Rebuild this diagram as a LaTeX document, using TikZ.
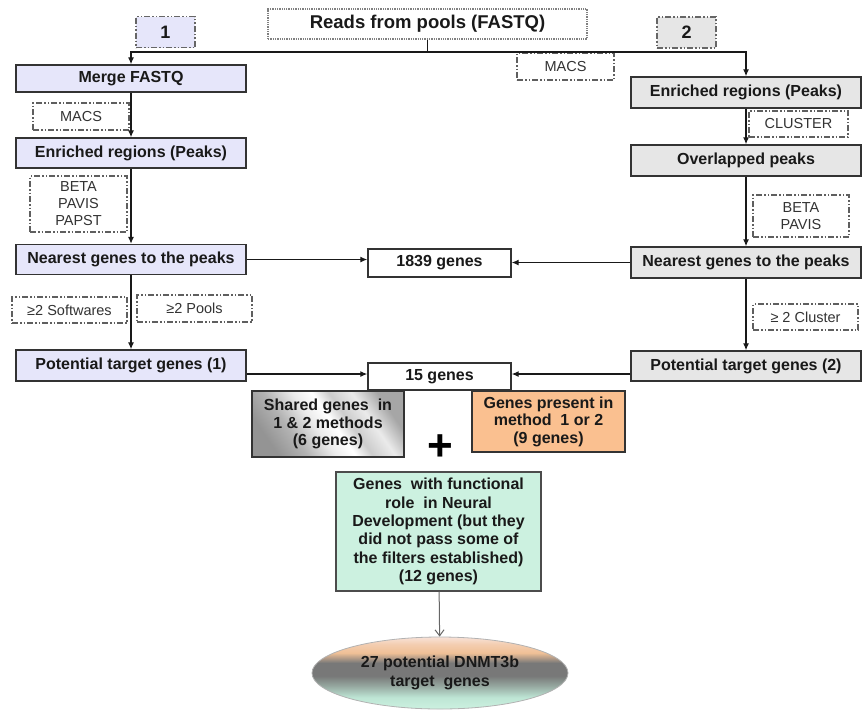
\documentclass[tikz,border=0pt]{standalone}
\usepackage{fontspec}
\setmainfont{Liberation Sans}
\usetikzlibrary{arrows.meta,shapes.geometric}
\definecolor{lav}{RGB}{230,230,250}
\definecolor{lgray}{RGB}{230,230,230}
\definecolor{orng}{RGB}{250,192,144}
\definecolor{mint}{RGB}{204,241,224}
\definecolor{txt}{RGB}{25,25,25}
\definecolor{lblc}{RGB}{95,95,95}
\definecolor{elltop}{RGB}{248,226,216}
\definecolor{ellor}{RGB}{240,192,150}
\definecolor{ellgr}{RGB}{120,120,120}
\definecolor{ellmid}{RGB}{150,168,160}
\definecolor{ellmint}{RGB}{190,230,213}
\pgfdeclarehorizontalshading{metalsh}{100bp}{color(0bp)=(black!42); color(25bp)=(black!42); color(35bp)=(black!30); color(45bp)=(black!8); color(52bp)=(white); color(58bp)=(black!20); color(66bp)=(black!8); color(75bp)=(black!35); color(100bp)=(black!35)}
\pgfdeclareverticalshading{ellsh}{100bp}{color(0bp)=(mint); color(25bp)=(mint); color(33bp)=(ellmint); color(41bp)=(ellmid); color(48bp)=(ellgr); color(57bp)=(ellgr); color(64bp)=(ellor); color(70bp)=(ellor!60!elltop); color(75bp)=(elltop); color(100bp)=(elltop)}
\tikzset{
  mainbox/.style={draw=black!80, line width=1.4pt, inner sep=0pt, minimum width=230pt,
    font=\fontsize{16}{18}\selectfont\bfseries, text=txt},
  lbox/.style={mainbox, fill=lav},
  rbox/.style={mainbox, fill=lgray},
  resbox/.style={draw=black!80, line width=1.4pt, inner sep=0pt, fill=white, align=center,
    font=\fontsize{16}{17.5}\selectfont\bfseries, text=txt},
  lbl/.style={draw=lblc, line width=1.1pt, fill=white, inner sep=0pt, align=center,
    dash pattern=on 6pt off 2pt on 1.5pt off 2pt on 1.5pt off 2pt,
    font=\fontsize{14.5}{17}\selectfont, text=black!80},
  numbox/.style={lbl, draw=black!60, minimum width=59pt, minimum height=31pt,
    font=\fontsize{18}{20}\selectfont\bfseries, text=txt},
  arr/.style={draw=black!90, line width=1.2pt, -{Latex[length=7pt,width=6pt]}},
  arrg/.style={draw=black!60, line width=1pt, -{Straight Barb[length=6pt,width=9pt]}}
}
\begin{document}
\begin{tikzpicture}[x=1pt,y=-1pt]
\useasboundingbox (0,0) rectangle (862,710);
% top
\node[draw=gray, densely dotted, line width=1.3pt, minimum width=319pt, minimum height=30pt,
  inner sep=0pt, font=\fontsize{18.5}{20}\selectfont\bfseries, text=txt] (reads) at (427.5,24) {Reads from pools (FASTQ)};
\node[numbox, fill=lav] (n1) at (165.5,32) {1};
\node[numbox, fill=lgray] (n2) at (686.5,32.5) {2};
% left column
\node[lbox, minimum height=27pt] (merge) at (131,78.5) {Merge FASTQ};
\node[lbox, minimum height=30pt] (enrL) at (131,153) {Enriched regions (Peaks)};
\node[lbox, minimum height=30pt] (nearL) at (131,259.5) {Nearest genes to the peaks};
\node[lbox, minimum height=31pt] (potL) at (131,365.5) {Potential target genes (1)};
% right column
\node[rbox, minimum height=31pt] (enrR) at (746,92.5) {Enriched regions (Peaks)};
\node[rbox, minimum height=31pt] (ovl) at (746,160.5) {Overlapped peaks};
\node[rbox, minimum height=31pt] (nearR) at (746,262.5) {Nearest genes to the peaks};
\node[rbox, minimum height=30pt] (potR) at (746,366) {Potential target genes (2)};
% labels
\node[lbl, minimum width=96pt, minimum height=27pt] (macsL) at (81,116.5) {MACS};
\node[lbl, minimum width=97pt, minimum height=56pt] (betaL) at (78.5,204) {BETA\\PAVIS\\PAPST};
\node[lbl, minimum width=115pt, minimum height=26pt] (soft) at (69.5,310) {≥2 Softwares};
\node[lbl, minimum width=115pt, minimum height=27pt] (pools) at (194.5,308.5) {≥2 Pools};
\node[lbl, minimum width=97pt, minimum height=27pt] (macsM) at (565.5,66.5) {MACS};
\node[lbl, minimum width=99pt, minimum height=26pt] (clus) at (798.5,124) {CLUSTER};
\node[lbl, minimum width=96pt, minimum height=42pt] (betaR) at (801,216) {BETA\\PAVIS};
\node[lbl, minimum width=105pt, minimum height=26pt] (clus2) at (805.5,317) {≥ 2 Cluster};
% results
\node[resbox, minimum width=143pt, minimum height=28pt] (g1839) at (439.5,263) {1839 genes};
\node[resbox, minimum width=143pt, minimum height=27pt] (g15) at (439.5,376.5) {15 genes};
\node[resbox, shading=metalsh, shading angle=35, minimum width=152pt, minimum height=66pt] (shared) at (328,424) {Shared genes~ in\\1 \& 2 methods\\(6 genes)};
\node[resbox, fill=orng, minimum width=153pt, minimum height=61pt] (present) at (548.5,421.5) {Genes present in\\method~ 1 or 2\\(9 genes)};
\node[inner sep=0pt, font=\fontsize{44}{44}\selectfont\bfseries, text=black] (plus) at (440,448) {+};
\node[resbox, draw=black!70, line width=1.2pt, fill=mint, minimum width=205pt, minimum height=119pt,
  font=\fontsize{16}{18.4}\selectfont\bfseries] (green) at (438.5,531.5)
  {Genes~ with functional\\role~ in Neural\\Development (but they\\did not pass some of\\the filters established)\\(12 genes)};
\node[ellipse, draw=gray!60, line width=0.8pt, shading=ellsh, minimum width=256pt, minimum height=72pt,
  inner sep=0pt, font=\fontsize{16}{19}\selectfont\bfseries, text=txt] (ell) at (440,673)
  {\raisebox{-5pt}{\parbox{165pt}{\centering 27 potential DNMT3b\\target~ genes}}};
% connectors
\coordinate (split) at (427.5,52);
\coordinate (a15) at (440,374);
\draw[arr] (reads.south) -- (split) -| (merge.north);
\draw[arr] (split) -| (enrR.north);
\draw[arr] (merge) -- (enrL);
\draw[arr] (enrL) -- (nearL);
\draw[arr] (nearL) -- (potL);
\draw[arr] (enrR) -- (ovl);
\draw[arr] (ovl) -- (nearR);
\draw[arr] (nearR) -- (potR);
\draw[arr] (nearL.east) -- (nearL.east -| g1839.west);
\draw[arr] (nearR.west) -- (nearR.west -| g1839.east);
\draw[arr] (potL.east |- a15) -- (g15.west |- a15);
\draw[arr] (potR.west |- a15) -- (g15.east |- a15);
\draw[arrg] (green) -- (ell);
\end{tikzpicture}
\end{document}
